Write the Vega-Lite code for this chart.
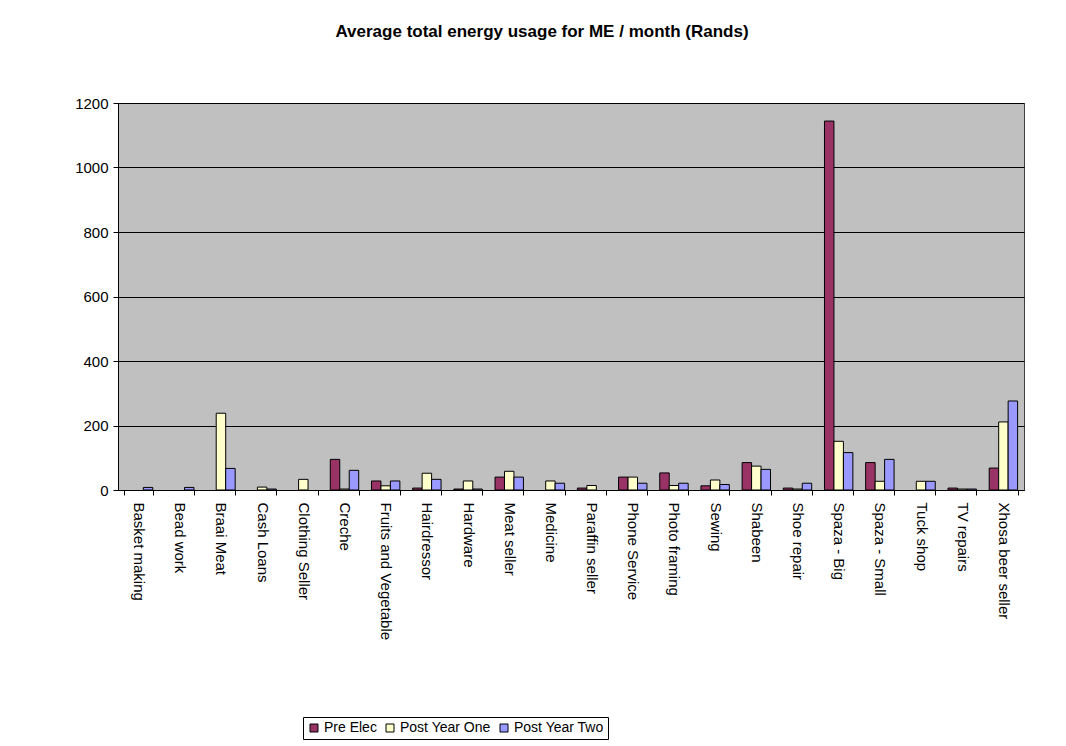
{
  "$schema": "https://vega.github.io/schema/vega-lite/v6.json",
  "autosize": "none",
  "width": 906,
  "height": 387,
  "padding": {"left": 118, "top": 103, "right": 42, "bottom": 256},
  "background": "white",
  "config": {
    "font": "Liberation Sans",
    "view": {"fill": "#C0C0C0", "stroke": "#404040", "strokeWidth": 1}
  },
  "title": {
    "text": "Average total energy usage for ME / month (Rands)",
    "font": "Liberation Sans",
    "fontSize": 17,
    "fontWeight": "bold",
    "color": "black",
    "anchor": "middle",
    "frame": "group",
    "dx": -29,
    "offset": 55
  },
  "data": {
    "values": [
      {"category": "Basket making", "series": "Post Year Two", "value": 8},
      {"category": "Bead work", "series": "Post Year Two", "value": 8},
      {"category": "Braai Meat", "series": "Post Year One", "value": 238},
      {"category": "Braai Meat", "series": "Post Year Two", "value": 67},
      {"category": "Cash Loans", "series": "Post Year One", "value": 9},
      {"category": "Cash Loans", "series": "Post Year Two", "value": 3},
      {"category": "Clothing Seller", "series": "Post Year One", "value": 33},
      {"category": "Creche", "series": "Pre Elec", "value": 95},
      {"category": "Creche", "series": "Post Year One", "value": 3},
      {"category": "Creche", "series": "Post Year Two", "value": 61},
      {"category": "Fruits and Vegetable", "series": "Pre Elec", "value": 28},
      {"category": "Fruits and Vegetable", "series": "Post Year One", "value": 13},
      {"category": "Fruits and Vegetable", "series": "Post Year Two", "value": 28},
      {"category": "Hairdressor", "series": "Pre Elec", "value": 6},
      {"category": "Hairdressor", "series": "Post Year One", "value": 52},
      {"category": "Hairdressor", "series": "Post Year Two", "value": 33},
      {"category": "Hardware", "series": "Pre Elec", "value": 3},
      {"category": "Hardware", "series": "Post Year One", "value": 28},
      {"category": "Hardware", "series": "Post Year Two", "value": 3},
      {"category": "Meat seller", "series": "Pre Elec", "value": 40},
      {"category": "Meat seller", "series": "Post Year One", "value": 58},
      {"category": "Meat seller", "series": "Post Year Two", "value": 40},
      {"category": "Medicine", "series": "Post Year One", "value": 28},
      {"category": "Medicine", "series": "Post Year Two", "value": 21},
      {"category": "Paraffin seller", "series": "Pre Elec", "value": 6},
      {"category": "Paraffin seller", "series": "Post Year One", "value": 14},
      {"category": "Phone Service", "series": "Pre Elec", "value": 40},
      {"category": "Phone Service", "series": "Post Year One", "value": 40},
      {"category": "Phone Service", "series": "Post Year Two", "value": 21},
      {"category": "Photo framing", "series": "Pre Elec", "value": 53},
      {"category": "Photo framing", "series": "Post Year One", "value": 14},
      {"category": "Photo framing", "series": "Post Year Two", "value": 21},
      {"category": "Sewing", "series": "Pre Elec", "value": 13},
      {"category": "Sewing", "series": "Post Year One", "value": 31},
      {"category": "Sewing", "series": "Post Year Two", "value": 17},
      {"category": "Shabeen", "series": "Pre Elec", "value": 85},
      {"category": "Shabeen", "series": "Post Year One", "value": 74},
      {"category": "Shabeen", "series": "Post Year Two", "value": 64},
      {"category": "Shoe repair", "series": "Pre Elec", "value": 6},
      {"category": "Shoe repair", "series": "Post Year One", "value": 3},
      {"category": "Shoe repair", "series": "Post Year Two", "value": 21},
      {"category": "Spaza - Big", "series": "Pre Elec", "value": 1144},
      {"category": "Spaza - Big", "series": "Post Year One", "value": 151},
      {"category": "Spaza - Big", "series": "Post Year Two", "value": 116},
      {"category": "Spaza - Small", "series": "Pre Elec", "value": 85},
      {"category": "Spaza - Small", "series": "Post Year One", "value": 27},
      {"category": "Spaza - Small", "series": "Post Year Two", "value": 95},
      {"category": "Tuck shop", "series": "Post Year One", "value": 27},
      {"category": "Tuck shop", "series": "Post Year Two", "value": 27},
      {"category": "TV repairs", "series": "Pre Elec", "value": 6},
      {"category": "TV repairs", "series": "Post Year One", "value": 3},
      {"category": "TV repairs", "series": "Post Year Two", "value": 3},
      {"category": "Xhosa beer seller", "series": "Pre Elec", "value": 68},
      {"category": "Xhosa beer seller", "series": "Post Year One", "value": 211},
      {"category": "Xhosa beer seller", "series": "Post Year Two", "value": 276}
    ]
  },
  "mark": {"type": "bar", "stroke": "black", "strokeWidth": 1},
  "encoding": {
    "x": {
      "field": "category",
      "type": "nominal",
      "sort": null,
      "scale": {"paddingInner": 0.31, "paddingOuter": 0.155},
      "axis": {
        "title": null,
        "labelAngle": 90,
        "labelAlign": "left",
        "labelBaseline": "middle",
        "labelFontSize": 15,
        "labelColor": "black",
        "labelPadding": 7,
        "tickBand": "extent",
        "tickSize": 5,
        "tickColor": "black",
        "domainColor": "black",
        "grid": false
      }
    },
    "xOffset": {
      "field": "series",
      "type": "nominal",
      "sort": ["Pre Elec", "Post Year One", "Post Year Two"],
      "scale": {"paddingInner": 0, "paddingOuter": 0}
    },
    "y": {
      "field": "value",
      "type": "quantitative",
      "scale": {"domain": [0, 1200], "nice": false},
      "axis": {
        "title": null,
        "values": [0, 200, 400, 600, 800, 1000, 1200],
        "format": "d",
        "labelFontSize": 15,
        "labelColor": "black",
        "labelPadding": 5,
        "tickSize": 5,
        "tickColor": "black",
        "domainColor": "black",
        "grid": true,
        "gridColor": "black",
        "gridOpacity": 1,
        "gridWidth": 1
      }
    },
    "color": {
      "field": "series",
      "type": "nominal",
      "sort": ["Pre Elec", "Post Year One", "Post Year Two"],
      "scale": {
        "domain": ["Pre Elec", "Post Year One", "Post Year Two"],
        "range": ["#993366", "#FFFFCC", "#9999FF"]
      },
      "legend": {
        "title": null,
        "orient": "none",
        "legendX": 185,
        "legendY": 614,
        "direction": "horizontal",
        "symbolType": "square",
        "symbolSize": 64,
        "symbolStrokeColor": "black",
        "symbolStrokeWidth": 1,
        "symbolOpacity": 1,
        "labelFontSize": 14,
        "labelColor": "black",
        "labelOffset": 3,
        "columnPadding": 6,
        "strokeColor": "black",
        "fillColor": "white",
        "padding": 4
      }
    }
  }
}
